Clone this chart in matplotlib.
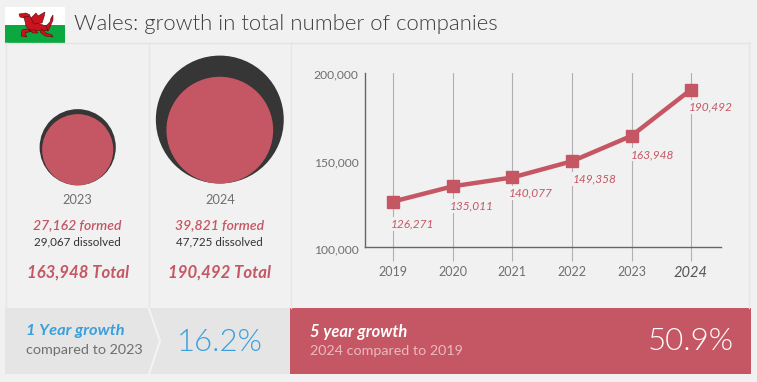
import matplotlib
matplotlib.use('Agg')
import matplotlib.pyplot as plt
from matplotlib.patches import Circle, Rectangle, Polygon
from matplotlib.transforms import ScaledTranslation

years = [2019, 2020, 2021, 2022, 2023, 2024]
totals = [126271, 135011, 140077, 149358, 163948, 190492]
y_ticks = [100000, 150000, 200000]

compare_years = [2023, 2024]
formed = [27162, 39821]
dissolved = [29067, 47725]
compare_totals = [163948, 190492]

one_year_growth = 16.2
five_year_growth = 50.9

RED = '#c55764'
DARK = '#363636'
BG = '#f1f1f1'
BLUE = '#3a9fdc'
GREY = '#6f6f6f'

plt.rcParams['font.family'] = ['Lato', 'DejaVu Sans']

fig = plt.figure(figsize=(7.57, 3.82), dpi=100, facecolor=BG)

# whole figure in pixels, y going down
bg = fig.add_axes([0, 0, 1, 1])
bg.set_xlim(0, 757)
bg.set_ylim(382, 0)
bg.axis('off')

# panel lines
for x in [6, 148.5, 290.5, 749]:
    bg.plot([x, x], [43, 308], color='#e6e6e6', lw=1)
bg.plot([5, 750], [43, 43], color='#e4e4e4', lw=1)

# flag, dragon is only a rough shape
bg.add_patch(Rectangle((5, 7), 60, 17.5, color='white', lw=0))
bg.add_patch(Rectangle((5, 24.5), 60, 18.5, color='#0aa83f', lw=0))
dragon = [
    [(19, 14), (26, 13), (30, 15), (28, 18), (24, 18), (20, 17)],
    [(24, 17), (30, 16), (33, 22), (40, 24), (46, 26), (48, 31), (42, 30), (36, 31), (30, 31), (26, 26)],
    [(31, 18), (36, 13), (38, 16), (45, 12), (44, 17), (42, 23), (34, 24)],
    [(46, 26), (50, 22), (51, 18), (53, 15), (53, 20), (50, 27), (48, 31)],
    [(27, 29), (22, 30), (21, 36), (27, 37), (25, 33), (32, 31)],
    [(29, 30), (33, 33), (38, 33), (35, 30)],
    [(42, 29), (46, 33), (52, 35), (53, 37), (45, 36), (40, 32)],
]
for part in dragon:
    bg.add_patch(Polygon(part, facecolor='#c8141e', edgecolor='#5a0a10', lw=0.4))

bg.text(74.5, 24, 'Wales: growth in total number of companies', fontsize=15.95, color='#3c3c3c',
        weight=300, va='center', ha='left')

# comparison columns
centers = [77.7, 219.8]
bottoms = [185.3, 183.5]
r_scales = [0.00131, 0.00134]
for i, yr in enumerate(compare_years):
    cx = centers[i]
    r1 = dissolved[i] * r_scales[i]
    r2 = formed[i] * r_scales[i]
    bg.add_patch(Circle((cx, bottoms[i] - r1), r1, color=DARK, lw=0))
    bg.add_patch(Circle((cx, bottoms[i] - r2), r2, color=RED, lw=0))
    bg.text(cx, 200.5, str(yr), fontsize=9.2, color=GREY, ha='center', va='center')
    bg.text(cx, 225, f'{formed[i]:,} formed', fontsize=10.1, color=RED, ha='center', va='center',
            style='italic', weight=600)
    bg.text(cx, 241.5, f'{dissolved[i]:,} dissolved', fontsize=8.4, color='#333333', ha='center', va='center')
    bg.text(cx, 273, f'{compare_totals[i]:,} Total', fontsize=12.05, color=RED, ha='center', va='center',
            style='italic', weight='bold')

# bottom strip
bg.add_patch(Rectangle((5, 308), 285, 66.3, color='#e5e5e5', lw=0))
bg.plot([149, 160, 149], [309, 341, 374], color='#f3f3f3', lw=1.5)
bg.text(26.5, 331, '1 Year growth', fontsize=11.8, color=BLUE, style='italic', weight='bold', va='center')
bg.text(25.5, 350, 'compared to 2023', fontsize=10.35, color=GREY, va='center')
bg.text(219.5, 342.5, f'{one_year_growth}%', fontsize=22.5, color=BLUE, weight=300, ha='center', va='center')

bg.add_patch(Rectangle((290, 308), 461, 66.3, color=RED, lw=0))
bg.text(310, 332, '5 year growth', fontsize=11.9, color='white', style='italic', weight='bold', va='center')
bg.text(309.5, 351, '2024 compared to 2019', fontsize=10.3, color='#eab9bf', va='center')
bg.text(733.5, 342, f'{five_year_growth}%', fontsize=22.5, color='white', weight=300, ha='right', va='center')

# line chart, axes box set from the pixel positions of the axis lines
left, right, top, bottom = 364.7, 721, 73, 247.3
ax = fig.add_axes([left / 757, 1 - bottom / 382, (right - left) / 757, (bottom - top) / 382])
ax.patch.set_alpha(0)
x_step = 59.55
ax.set_xlim(years[0] - (393.3 - left) / x_step, years[0] + (right - 393.3) / x_step)
ax.set_ylim(y_ticks[0], y_ticks[-1])

for s in ['top', 'right']:
    ax.spines[s].set_visible(False)
for s in ['left', 'bottom']:
    ax.spines[s].set_color('#666666')
    ax.spines[s].set_linewidth(1)

ax.set_xticks(years)
ax.set_xticklabels(years)
ax.set_yticks(y_ticks)
ax.set_yticklabels([f'{v:,}' for v in y_ticks])
ax.tick_params(axis='x', length=10, width=0.8, color='#b0b0b0', pad=3.5, labelsize=9, labelcolor=GREY)
ax.tick_params(axis='y', length=0, pad=4.5, labelsize=8.7, labelcolor=GREY)
ax.get_xticklabels()[-1].set_fontsize(10.5)
ax.get_xticklabels()[-1].set_style('italic')
ax.get_xticklabels()[-1].set_color('#555555')

# y labels sit a little under their ticks
for lab in ax.get_yticklabels():
    lab.set_transform(lab.get_transform() + ScaledTranslation(0, -1.3 / 100, fig.dpi_scale_trans))

ax.grid(axis='x', color='#b0b0b0', lw=0.8)
ax.set_axisbelow(True)
ax.plot(years, totals, color=RED, lw=3.2, marker='s', ms=8.8, zorder=3, clip_on=False)

# label offsets from each point, in pixels
label_dx = [-2.3, -2.6, -4, 1, -0.3, -2.7]
label_dy = [22.6, 19.7, 15.5, 17.8, 18.7, 17.2]
for yr, v, dx, dy in zip(years, totals, label_dx, label_dy):
    t = ax.annotate(f'{v:,}', (yr, v), xytext=(dx * 0.72, -dy * 0.72), textcoords='offset points', fontsize=8.6,
                    color=RED, style='italic', ha='left', va='center', zorder=4)
    t.set_bbox(dict(facecolor=BG, edgecolor='none', pad=1))

fig.savefig('out.png', dpi=100, facecolor=fig.get_facecolor())
